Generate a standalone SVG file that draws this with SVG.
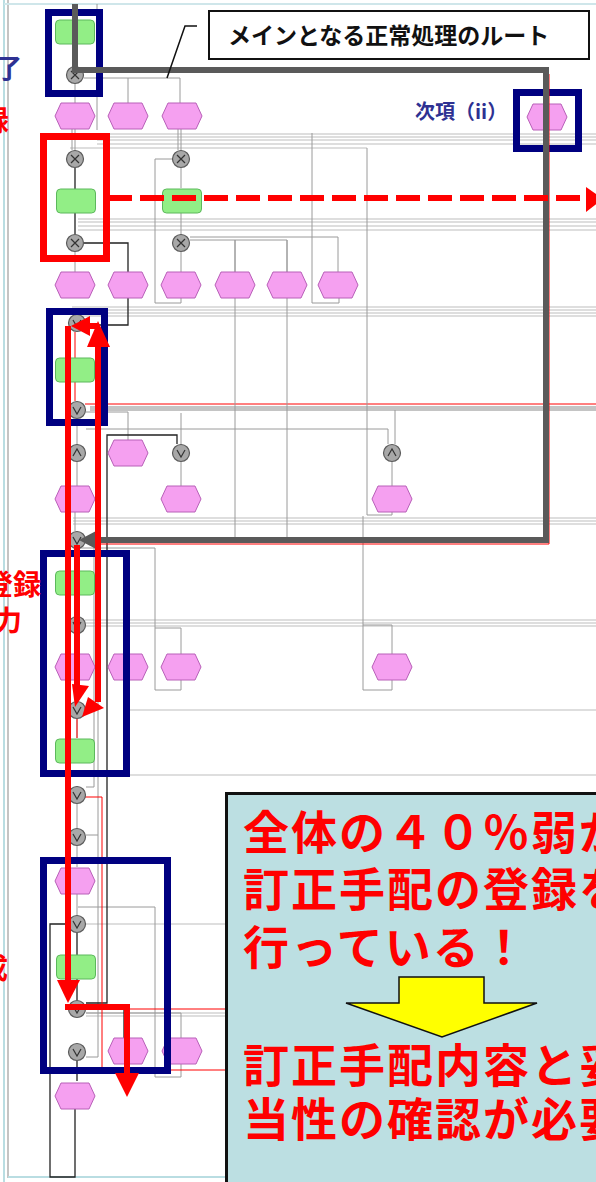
<svg xmlns="http://www.w3.org/2000/svg" xmlns:xlink="http://www.w3.org/1999/xlink" width="596" height="1182" viewBox="0 0 596 1182">
<style>
.pk{fill:#f5a0f0;stroke:#b860b8;stroke-width:1}
.gr{fill:#92ee86;stroke:#5cb85c;stroke-width:1}
.gc{fill:#a8a8a8;stroke:#5a5a5a;stroke-width:1.2}
.gs{fill:none;stroke:#333;stroke-width:1.2}
.ln{fill:none;stroke:#bdbdbd;stroke-width:1}
.lk{fill:none;stroke:#9a9a9a;stroke-width:1}
.bk{fill:none;stroke:#222;stroke-width:1.3}
.rt{fill:none;stroke:#ff0000;stroke-width:1}
.blue{fill:none;stroke:#000080;stroke-width:7}
.red{fill:none;stroke:#ff0000;stroke-width:7}
.ra{fill:none;stroke:#ff0000;stroke-width:6}
.rh{fill:#ff0000;stroke:none}
.jp{font-family:"Noto Sans CJK JP","Noto Sans CJK SC",sans-serif;font-weight:700}
</style>
<defs>
<path id="hx" class="pk" d="M-20,0 L-14,-13 L14,-13 L20,0 L14,13 L-14,13Z"/>
<rect id="gn" class="gr" x="-19.5" y="-12" width="39" height="24" rx="4"/>
<g id="cx"><circle class="gc" r="8.5"/><path class="gs" d="M-4,-4 L4,4 M4,-4 L-4,4"/></g>
<g id="cv"><circle class="gc" r="8.5"/><path class="gs" d="M-4,-3 L0,4 L4,-3"/></g>
<g id="ca"><circle class="gc" r="8.5"/><path class="gs" d="M-4,3 L0,-4 L4,3"/></g>
</defs>
<rect width="596" height="1182" fill="#ffffff"/>
<g id="frame">
<path d="M4,0 V1182" stroke="#b9dde2" stroke-width="2" fill="none"/>
<path d="M8,0 V1178" stroke="#b0b0b0" stroke-width="1.5" fill="none"/>
<path d="M4,4 H596" stroke="#cfe6ea" stroke-width="2" fill="none"/>
<path d="M8,1177 H226" stroke="#b9dde2" stroke-width="2" fill="none"/>
</g>
<g id="connectors">
<path class="ln" d="M97,134 H596 M97,137 H596 M97,140 H596 M97,144 H596 M70,148 H367"/>
<path class="ln" d="M78,219 H596 M78,222 H596 M78,226 H596 M78,230 H596"/>
<path class="ln" d="M72,307 H596 M72,310 H596 M72,313 H596 M72,316 H596"/>
<path d="M90,408.5 H596" stroke="#c4c4c4" stroke-width="5" fill="none"/>
<path class="rt" d="M85,404 H596"/>
<path class="ln" d="M73,518 H596 M73,521 H596 M73,524 H596"/>
<path class="ln" d="M85,620 H596 M85,623 H596 M85,626 H596"/>
<path class="ln" d="M130,710 H596 M100,775 H596"/>
<path class="ln" d="M85,924 H226 M86,1013 H226 M86,1016 H226"/>
<path class="lk" d="M97,4 V130 M312,133 V303 H339 V298 M367,148 V515 H392 V512 M235,240 V537 M287,240 V537 M363,516 V690 H392 V680 M363,625 H392 V654"/>
<path class="lk" d="M155,159 H172 M155,159 V303 H181 V298 M155,548 V690 H181 V680 M155,628 H181 V654 M78,548 H155"/>
<path class="lk" d="M75,84 V103 M84,78 H180 V103 M128,78 V103 M75,129 V150 M72,129 V150 M181,129 V150 M178,129 V150 M181,168 V188 M181,212 V234"/>
<path class="lk" d="M75,252 V272 M181,252 V272 M190,240 H287 V272 M235,240 V272 M190,237 H338 V272"/>
<path class="lk" d="M77,419 V444 M86,412 H128 V440 M181,413 V444 M86,429 H388 V444 M395,410 V444 M77,462 V486 M181,462 V486 M392,462 V486 M75,512 V531"/>
<path class="lk" d="M77,634 V654 M77,680 V701 M77,719 V738 M77,804 V828 M77,846 V867 M77,893 V915"/>
<path class="lk" d="M98,545 V1057 H86 M98,835 H86 M94,545 V787 H86 M78,907 H155 V1077 H181 V1064 M86,1013 H181 V1038"/>
<path class="bk" d="M75,168 V189 M75,213 V234 M84,243 H128 V272 M128,298 V325 H86"/>
<path class="bk" d="M86,1003 H107 V435 H177 V444"/>
<path class="bk" d="M77,933 V955 M77,979 V1000 M85,1006 H124 V1038 M77,1061 V1081"/>
<path class="bk" d="M70,924 H50 V1177 H75 V1108"/>
<path class="rt" d="M75,332 V358 M75,382 V401 M77,719 V738 M85,797 H102 V1070 H226 M102,1009 H226"/>
</g>
<g id="nodes">
<g id="n1"><use xlink:href="#gn" x="75" y="32"/></g>
<g id="g1"><use xlink:href="#cx" x="75" y="75"/></g>
<g id="p1"><use xlink:href="#hx" x="75" y="116"/></g>
<g id="p2"><use xlink:href="#hx" x="128" y="116"/></g>
<g id="p3"><use xlink:href="#hx" x="182" y="116"/></g>
<g id="p4"><use xlink:href="#hx" x="547" y="117"/></g>
<g id="g2"><use xlink:href="#cx" x="75" y="159"/></g>
<g id="g3"><use xlink:href="#cx" x="181" y="159"/></g>
<g id="n2"><use xlink:href="#gn" x="76" y="201"/></g>
<g id="n3"><use xlink:href="#gn" x="182" y="201"/></g>
<g id="g4"><use xlink:href="#cx" x="75" y="243"/></g>
<g id="g5"><use xlink:href="#cx" x="181" y="243"/></g>
<g id="p5"><use xlink:href="#hx" x="75" y="285"/></g>
<g id="p6"><use xlink:href="#hx" x="128" y="285"/></g>
<g id="p7"><use xlink:href="#hx" x="181" y="285"/></g>
<g id="p8"><use xlink:href="#hx" x="235" y="285"/></g>
<g id="p9"><use xlink:href="#hx" x="287" y="285"/></g>
<g id="p10"><use xlink:href="#hx" x="338" y="285"/></g>
<g id="g6"><use xlink:href="#cv" x="77" y="323"/></g>
<g id="n4"><use xlink:href="#gn" x="75" y="370"/></g>
<g id="g7"><use xlink:href="#cv" x="77" y="410"/></g>
<g id="g8"><use xlink:href="#ca" x="77" y="453"/></g>
<g id="p11"><use xlink:href="#hx" x="128" y="453"/></g>
<g id="g9"><use xlink:href="#cv" x="181" y="453"/></g>
<g id="g10"><use xlink:href="#ca" x="392" y="453"/></g>
<g id="p12"><use xlink:href="#hx" x="75" y="499"/></g>
<g id="p13"><use xlink:href="#hx" x="181" y="499"/></g>
<g id="p14"><use xlink:href="#hx" x="392" y="499"/></g>
<g id="g11"><use xlink:href="#cv" x="77" y="540"/></g>
<g id="n5"><use xlink:href="#gn" x="75" y="583"/></g>
<g id="g12"><use xlink:href="#cv" x="77" y="625"/></g>
<g id="p15"><use xlink:href="#hx" x="75" y="667"/></g>
<g id="p16"><use xlink:href="#hx" x="128" y="667"/></g>
<g id="p17"><use xlink:href="#hx" x="181" y="667"/></g>
<g id="p18"><use xlink:href="#hx" x="392" y="667"/></g>
<g id="g13"><use xlink:href="#cv" x="77" y="710"/></g>
<g id="n6"><use xlink:href="#gn" x="75" y="751"/></g>
<g id="g14"><use xlink:href="#cv" x="77" y="795"/></g>
<g id="g15"><use xlink:href="#cv" x="77" y="837"/></g>
<g id="p19"><use xlink:href="#hx" x="75" y="881"/></g>
<g id="g16"><use xlink:href="#cv" x="77" y="924"/></g>
<g id="n7"><use xlink:href="#gn" x="76" y="967"/></g>
<g id="g17"><use xlink:href="#cv" x="77" y="1009"/></g>
<g id="g18"><use xlink:href="#cv" x="77" y="1052"/></g>
<g id="p20"><use xlink:href="#hx" x="128" y="1051"/></g>
<g id="p21"><use xlink:href="#hx" x="182" y="1051"/></g>
<g id="p22"><use xlink:href="#hx" x="75" y="1096"/></g>
</g>
<g id="highlight-boxes">
<rect class="blue" x="48.5" y="12.5" width="51" height="81"/>
<rect class="blue" x="516.5" y="92.5" width="62" height="56"/>
<rect class="blue" x="49.5" y="311.5" width="55" height="111"/>
<rect class="blue" x="43.5" y="553.5" width="83" height="220"/>
<rect class="blue" x="43.5" y="860.5" width="124" height="210"/>
<rect class="red" x="43.5" y="136.5" width="63" height="122"/>
</g>
<g id="main-route">
<path class="rt" d="M95,544 H549 V74"/>
<path d="M75,4 V70 H546 V540 H92" fill="none" stroke="#5a5a5a" stroke-width="6"/>
<polygon points="79,540 96,531 96,549" fill="#5a5a5a"/>
</g>
<g id="title">
<rect x="209" y="11" width="380" height="48" fill="#ffffff" stroke="#111" stroke-width="2"/>
<text class="jp" x="228" y="44" font-size="23" fill="#111">メインとなる正常処理のルート</text>
<path d="M167,78 L185,26 H197" fill="none" stroke="#111" stroke-width="1.5"/>
</g>
<g id="labels">
<text class="jp" x="415" y="119" font-size="20" fill="#2e3192">次項（ii）</text>
<text class="jp" x="22" y="78" font-size="26" fill="#2e3192" text-anchor="end">了</text>
<text class="jp" x="9" y="131" font-size="28" fill="#ff0000" text-anchor="end">録</text>
<text class="jp" x="3" y="368" font-size="24" fill="#ff0000" text-anchor="end">）</text>
<text class="jp" x="41" y="595" font-size="28" fill="#ff0000" text-anchor="end">登録</text>
<text class="jp" x="22" y="631" font-size="28" fill="#ff0000" text-anchor="end">力</text>
<text class="jp" x="8" y="979" font-size="28" fill="#ff0000" text-anchor="end">成</text>
</g>
<g id="red-arrows">
<path class="ra" d="M108,198 H586" stroke-dasharray="24 8"/>
<polygon class="rh" points="586,187 603,199 586,212"/>
<path class="ra" d="M98,340 V702"/>
<polygon class="rh" points="98,321 87,347 110,347"/>
<polygon class="rh" points="82,717 88,697 104,708"/>
<path class="ra" d="M85,326 H98"/>
<polygon class="rh" points="71,326 90,316 90,336"/>
<path class="ra" d="M68,326 V985"/>
<polygon class="rh" points="68,1003 57,980 80,980"/>
<path class="ra" d="M77,545 V688"/>
<polygon class="rh" points="75,707 72,684 89,686"/>
<path class="ra" d="M65,1007 H127 V1076"/>
<polygon class="rh" points="127,1097 115,1073 139,1073"/>
</g>
<g id="callout">
<rect x="226.5" y="793.5" width="375" height="395" fill="#bcdfe2" stroke="#111" stroke-width="3"/>
<g class="jp" font-size="46" fill="#ff0000" letter-spacing="2">
<text x="243" y="849">全体の４０％弱が</text>
<text x="243" y="906">訂正手配の登録を</text>
<text x="243" y="964">行っている！</text>
<text x="243" y="1082">訂正手配内容と妥</text>
<text x="243" y="1136">当性の確認が必要</text>
</g>
<polygon points="399,977 484,977 484,1003 537,1003 442,1037 346,1003 399,1003" fill="#ffff00" stroke="#111" stroke-width="1.5"/>
</g>
</svg>
